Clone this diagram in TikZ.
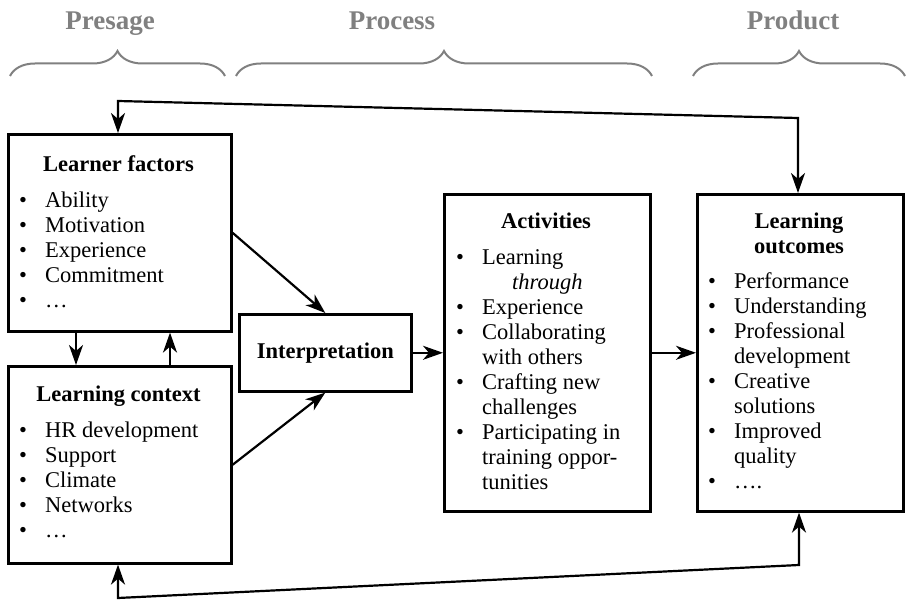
\documentclass[tikz,border=0pt]{standalone}
\usepackage{fontspec}
\setmainfont{Liberation Serif}
\usetikzlibrary{arrows.meta,decorations.pathreplacing}
\definecolor{headgray}{RGB}{128,128,128}
\newcommand{\itemlist}[1]{\begin{tabular}[t]{@{}p{26pt}@{}l@{}}#1\end{tabular}}
\newcommand{\bul}{\textbullet &}

\begin{document}
\begin{tikzpicture}[x=1pt,y=1pt,
    box/.style={draw, line width=2.6pt, inner sep=0pt, anchor=north west},
    tip/.style={Stealth[length=20pt,width=14pt,inset=6pt]},
    flow/.style={line width=2.2pt, -{Stealth[length=20pt,width=14pt,inset=6pt]}},
    twoway/.style={line width=2.2pt, {Stealth[length=20pt,width=14pt,inset=6pt]}-{Stealth[length=20pt,width=14pt,inset=6pt]}},
    span/.style={draw=headgray, line width=2pt, decorate, decoration={brace, amplitude=25pt}},
    every node/.style={font=\fontsize{22.5}{25}\selectfont}]

      \useasboundingbox (0,0) rectangle (906,-601);

      % phase titles and braces
      \begin{scope}[every node/.style={anchor=base, text=headgray, font=\fontsize{27}{30}\selectfont\bfseries}]
        \node (presage) at (110,-30) {Presage};
        \node (process) at (392,-30) {Process};
        \node (product) at (793,-30) {Product};
      \end{scope}
      \draw[span] (10,-76)  -- (225,-76);
      \draw[span] (236,-76) -- (652,-76);
      \draw[span] (693,-76) -- (905,-76);

      % boxes
      \node[box, minimum width=223pt, minimum height=197pt] (lf) at (7,-133) {};
      \node[box, minimum width=223pt, minimum height=197pt] (lc) at (7,-365) {};
      \node[box, minimum width=172pt, minimum height=77pt, font=\fontsize{22.5}{25}\selectfont\bfseries] (interp) at (238,-313) {Interpretation};
      \node[box, minimum width=206pt, minimum height=317pt] (act) at (443,-193) {};
      \node[box, minimum width=206pt, minimum height=317pt] (out) at (696,-193) {};

      % headings
      \begin{scope}[every node/.style={anchor=base, font=\fontsize{22.5}{25}\selectfont\bfseries}]
        \node (lf head)  at (118.5,-172) {Learner factors};
        \node (lc head)  at (118.5,-402) {Learning context};
        \node (act head) at (546,-229)   {Activities};
        \node (out head) at (799,-229)   {Learning};
        \node (out head2) at (799,-254)  {outcomes};
      \end{scope}

      % bullet lists
      \begin{scope}[every node/.style={anchor=base west, inner sep=0pt, font=\fontsize{22.5}{25}\selectfont}]
        \node (lf list) at (19,-208) {\itemlist{
          \bul Ability\\ \bul Motivation\\ \bul Experience\\ \bul Commitment\\ \bul …}};
        \node (lc list) at (19,-438) {\itemlist{
          \bul HR development\\ \bul Support\\ \bul Climate\\ \bul Networks\\ \bul …}};
        \node (act list) at (456,-265) {\itemlist{
          \bul Learning\\ & \hspace*{30pt}\textit{through}\\ \bul Experience\\
          \bul Collaborating\\ & with others\\ \bul Crafting new\\ & challenges\\
          \bul Participating in\\ & training oppor-\\ & tunities}};
        \node (out list) at (708,-289) {\itemlist{
          \bul Performance\\ \bul Understanding\\ \bul Professional\\ & development\\
          \bul Creative\\ & solutions\\ \bul Improved\\ & quality\\ \bul ….}};
      \end{scope}

      % connectors
      \draw[flow] (lf.east) -- (interp.north);
      \draw[flow] (lc.east) -- (interp.south);
      \draw[flow] (interp.east) -- (act.west);
      \draw[flow] (act.east) -- (out.west);
      \draw[flow] ([xshift=69pt]lf.south west) -- ([xshift=69pt]lc.north west);
      \draw[flow] ([xshift=163pt]lc.north west) -- ([xshift=163pt]lf.south west);

      % feedback loops
      \coordinate (top left)  at (118,-101);
      \coordinate (top right) at (798,-118);
      \coordinate (bot left)  at (118,-598);
      \coordinate (bot right) at (799,-565);
      \draw[twoway] (top left |- lf.north) -- (top left) -- (top right) -- (top right |- out.north);
      \draw[twoway] (bot left |- lc.south) -- (bot left) -- (bot right) -- (bot right |- out.south);

    \end{tikzpicture}
\end{document}
